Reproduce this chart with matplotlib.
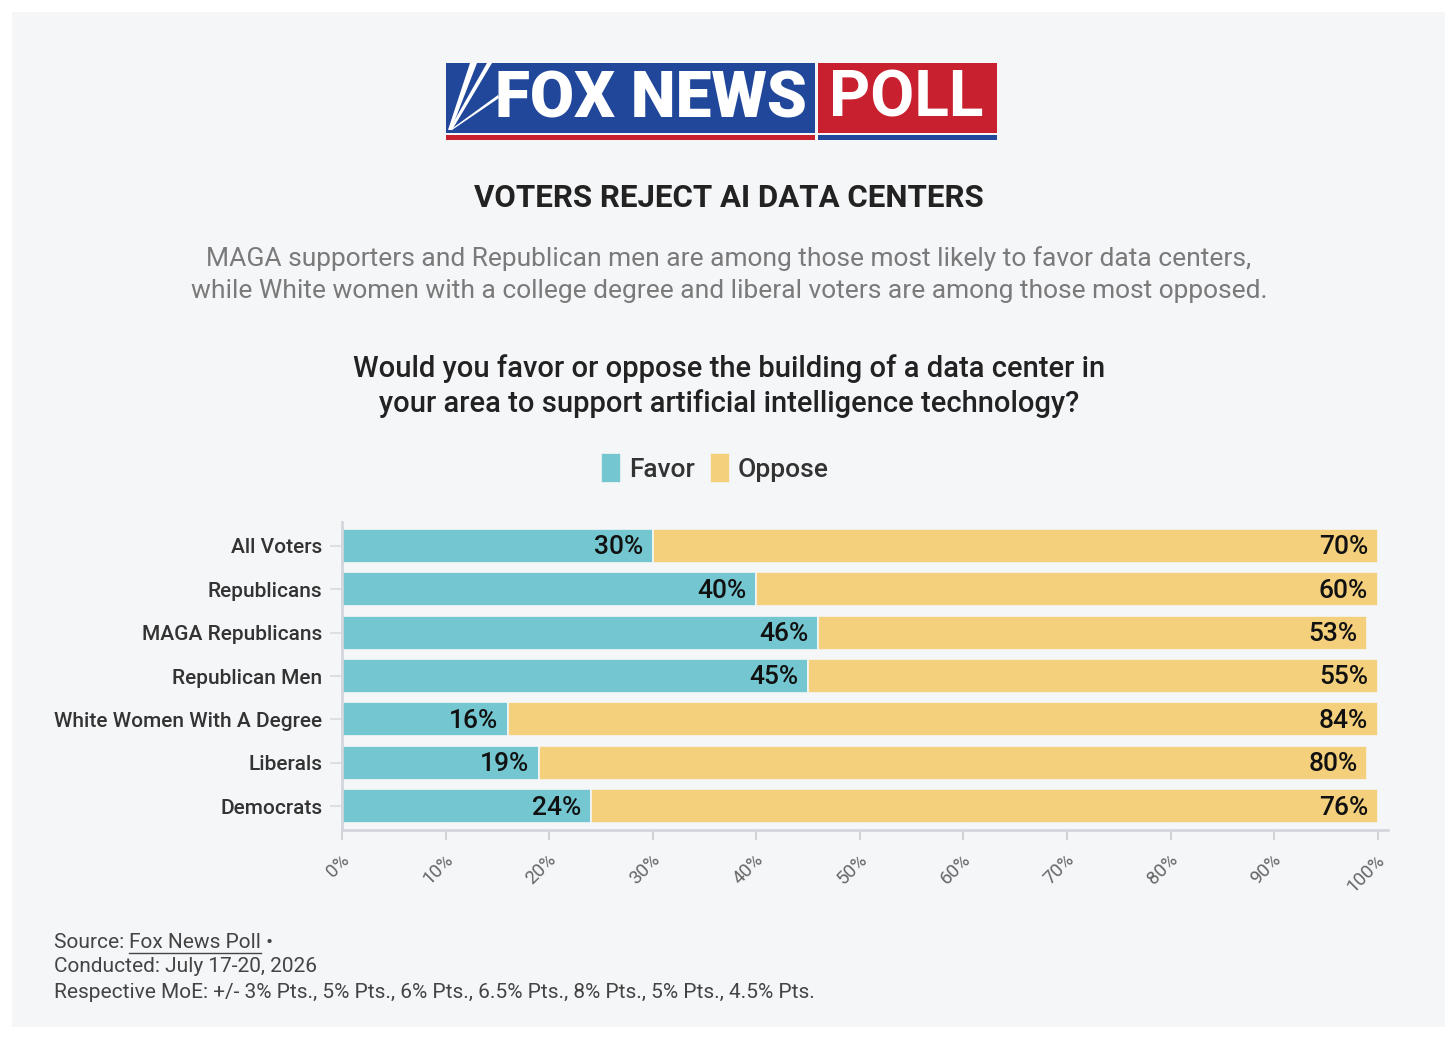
import matplotlib
matplotlib.use('Agg')
import matplotlib.pyplot as plt
from matplotlib.patches import Rectangle, Polygon
from matplotlib.lines import Line2D
import matplotlib.transforms as mtransforms
import numpy as np

# ---------------- data ----------------
categories = ["All Voters", "Republicans", "MAGA Republicans", "Republican Men",
              "White Women With A Degree", "Liberals", "Democrats"]
favor = [30, 40, 46, 45, 16, 19, 24]
oppose = [70, 60, 53, 55, 84, 80, 76]
xticks = [0, 10, 20, 30, 40, 50, 60, 70, 80, 90, 100]
xtick_labels = ["0%", "10%", "20%", "30%", "40%", "50%", "60%", "70%", "80%", "90%", "100%"]
series_names = ["Favor", "Oppose"]

title = "VOTERS REJECT AI DATA CENTERS"
subtitle = ["MAGA supporters and Republican men are among those most likely to favor data centers,",
            "while White women with a college degree and liberal voters are among those most opposed."]
question = ["Would you favor or oppose the building of a data center in",
            "your area to support artificial intelligence technology?"]
footer_source = ("Source: ", "Fox News Poll", " \u2022")
footer_lines = ["Conducted: July 17-20, 2026",
                "Respective MoE: +/- 3% Pts., 5% Pts., 6% Pts., 6.5% Pts., 8% Pts., 5% Pts., 4.5% Pts."]

# ---------------- style ----------------
plt.rcParams['font.family'] = ['Roboto', 'DejaVu Sans']
W, H = 1456, 1043
BG = '#f5f6f8'
TEAL = '#74c7d0'
GOLD = '#f4cf7c'
BLUE = '#21479b'
RED = '#c8202e'

def fx(px):
    return px / W

def fy(py):
    return 1 - py / H

fig = plt.figure(figsize=(W / 100, H / 100), dpi=100)
fig.patch.set_facecolor('white')
fig.add_artist(Rectangle((fx(12), fy(1027)), fx(1445) - fx(12), (1027 - 12) / H,
                         transform=fig.transFigure, facecolor=BG, edgecolor='none', zorder=0))

# ---------------- logo ----------------
fig.add_artist(Rectangle((fx(446), fy(133)), (815 - 446) / W, 70 / H, transform=fig.transFigure,
                         facecolor=BLUE, edgecolor='none', zorder=1))
fig.add_artist(Rectangle((fx(446), fy(140)), (815 - 446) / W, 5 / H, transform=fig.transFigure,
                         facecolor=RED, edgecolor='none', zorder=1))
fig.add_artist(Rectangle((fx(818), fy(133)), (997 - 818) / W, 70 / H, transform=fig.transFigure,
                         facecolor=RED, edgecolor='none', zorder=1))
fig.add_artist(Rectangle((fx(818), fy(140)), (997 - 818) / W, 5 / H, transform=fig.transFigure,
                         facecolor=BLUE, edgecolor='none', zorder=1))
# searchlight streaks
for pts in ([(448, 130), (470, 63), (477, 63), (451, 130)],
            [(449, 130), (487, 63), (492, 63), (452, 130)],
            [(450, 130), (498, 95), (499, 98), (452, 130)]):
    fig.add_artist(Polygon([(fx(a), fy(b)) for a, b in pts], closed=True, transform=fig.transFigure,
                           facecolor='white', edgecolor='none', zorder=2))
fig.text(fx(651), fy(99), "FOX NEWS", color='white', fontsize=46, fontweight='black',
         ha='center', va='center', zorder=3)
fig.text(fx(906), fy(99), "POLL", color='white', fontsize=46, fontweight='bold',
         ha='center', va='center', zorder=3)

# ---------------- titles ----------------
fig.text(fx(729), fy(198), title, fontsize=22.5, fontweight='bold', color='#222222',
         ha='center', va='center')
for i, line in enumerate(subtitle):
    fig.text(fx(729), fy(259 + 32 * i), line, fontsize=19, color='#7a7a7a',
             ha='center', va='center')
for i, line in enumerate(question):
    fig.text(fx(729), fy(369 + 35 * i), line, fontsize=21, fontweight='medium', color='#222222',
             ha='center', va='center')

# ---------------- chart ----------------
ax = fig.add_axes([fx(342), fy(830), (1388 - 342) / W, (830 - 522) / H])
ax.set_facecolor('none')
y = np.arange(len(categories))
b1 = ax.barh(y, favor, height=0.78, color=TEAL, edgecolor=BG, linewidth=1.2, label=series_names[0])
b2 = ax.barh(y, oppose, left=favor, height=0.78, color=GOLD, edgecolor=BG, linewidth=1.2,
             label=series_names[1])
ax.set_xlim(0, 101)
ax.set_ylim(len(categories) - 0.45, -0.55)

for i in range(len(categories)):
    ax.annotate(f"{favor[i]}%", xy=(favor[i], y[i]), xytext=(-7, -1), textcoords='offset points',
                ha='right', va='center', fontsize=19, fontweight='medium', color='#111111')
    ax.annotate(f"{oppose[i]}%", xy=(favor[i] + oppose[i], y[i]), xytext=(-7, -1),
                textcoords='offset points', ha='right', va='center', fontsize=19,
                fontweight='medium', color='#111111')

for s in ['top', 'right']:
    ax.spines[s].set_visible(False)
for s in ['left', 'bottom']:
    ax.spines[s].set_color('#d3d6da')
    ax.spines[s].set_linewidth(2)

ax.set_yticks(y, categories)
ax.tick_params(axis='y', length=9, width=1.5, color='#dcdfe3', pad=5, labelsize=15,
               labelcolor='#333333')
for lab in ax.get_yticklabels():
    lab.set_fontweight('medium')
ax.set_xticks(xticks, xtick_labels, rotation=45, ha='right', va='top')
ax.tick_params(axis='x', length=7, width=1.5, color='#cfd2d6', pad=8, labelsize=13.5,
               labelcolor='#666666')
offset = mtransforms.ScaledTranslation(11 / 100, 0, fig.dpi_scale_trans)
for lab in ax.get_xticklabels():
    lab.set_transform(lab.get_transform() + offset)

leg = fig.legend([b1, b2], series_names, loc='center', bbox_to_anchor=(fx(715), fy(468)), ncol=2,
                 frameon=False, fontsize=19, handlelength=0.75, handleheight=1.35,
                 handletextpad=0.3, columnspacing=0.6)
for t in leg.get_texts():
    t.set_color('#333333')
    t.set_fontweight('medium')

# ---------------- footer ----------------
renderer = fig.canvas.get_renderer()
fs = 15
fcol = '#444444'
x0 = fx(54)
t1 = fig.text(x0, fy(942), footer_source[0], fontsize=fs, color=fcol, ha='left', va='center')
w1 = t1.get_window_extent(renderer).width / W
t2 = fig.text(x0 + w1, fy(942), footer_source[1], fontsize=fs, color=fcol, ha='left', va='center')
bb2 = t2.get_window_extent(renderer)
w2 = bb2.width / W
fig.add_artist(Line2D([x0 + w1, x0 + w1 + w2], [fy(953), fy(953)], transform=fig.transFigure,
                      color=fcol, linewidth=1))
fig.text(x0 + w1 + w2, fy(942), footer_source[2], fontsize=fs, color=fcol, ha='left', va='center')
for i, line in enumerate(footer_lines):
    fig.text(x0, fy(967 + 25 * i), line, fontsize=fs, color=fcol, ha='left', va='center')

fig.savefig('out.png', dpi=100, facecolor='white')
